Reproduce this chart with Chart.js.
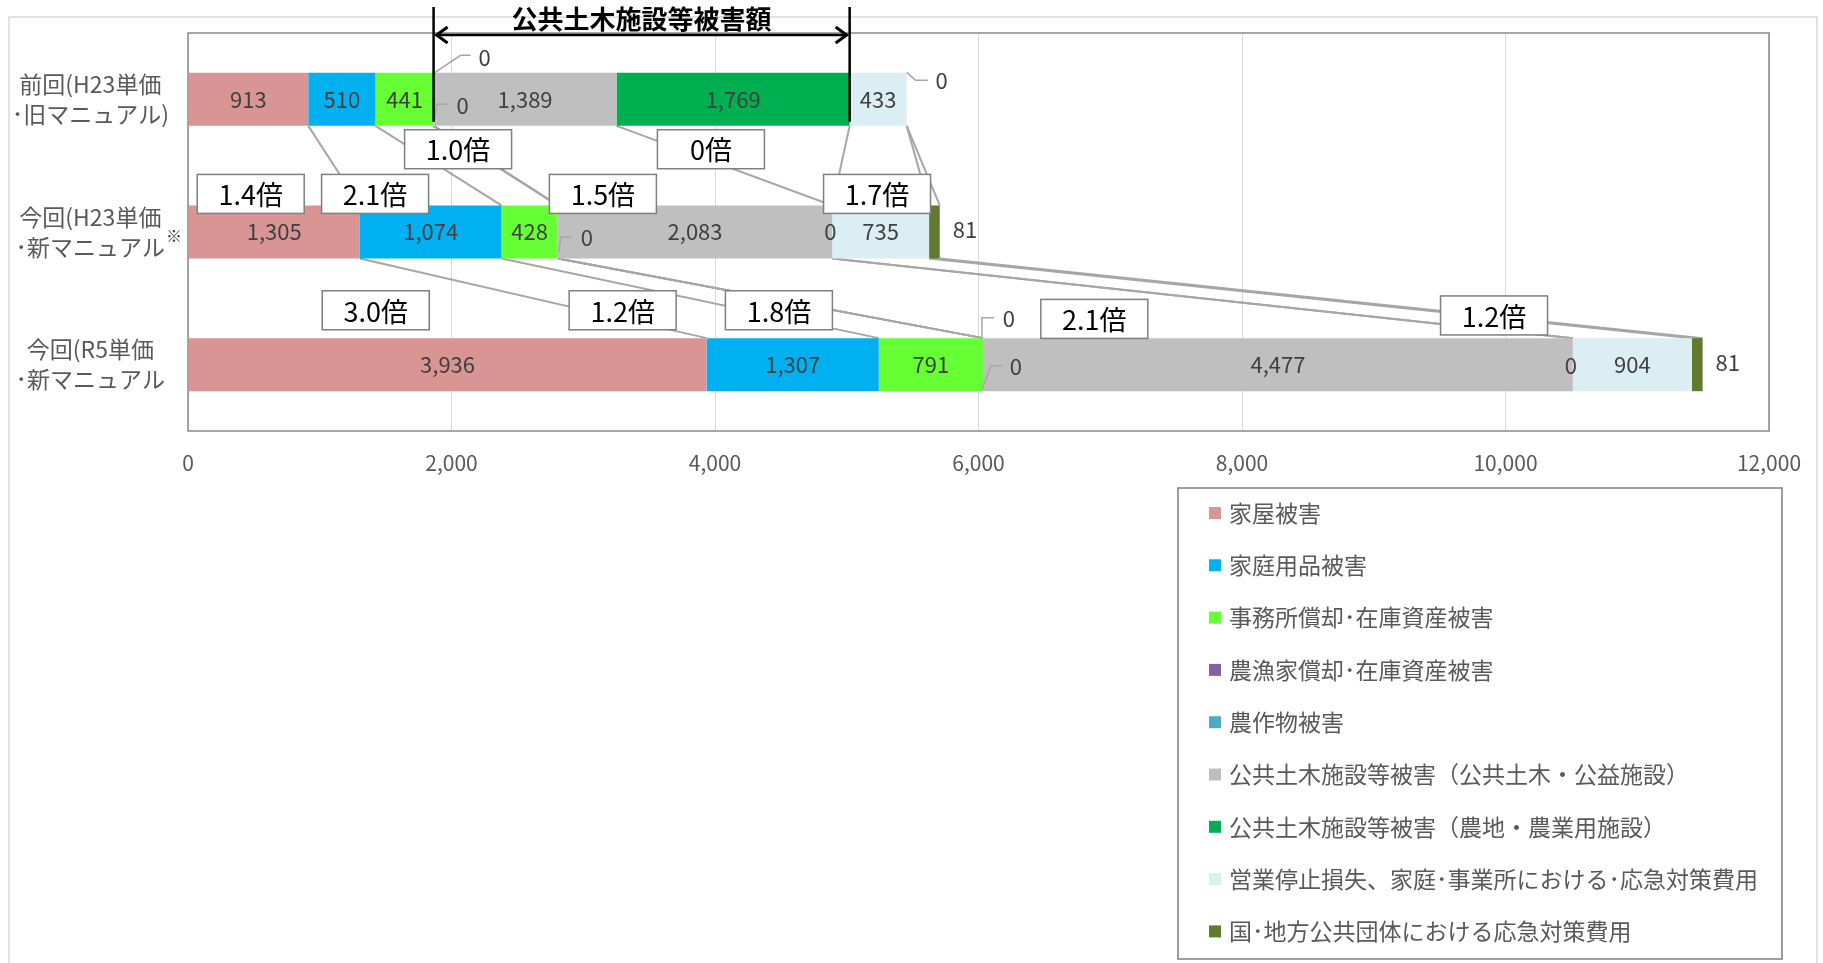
<!DOCTYPE html>
<html lang="ja">
<head>
<meta charset="utf-8">
<title>被害額の比較</title>
<script src="https://cdn.jsdelivr.net/npm/chart.js@4.4.0/dist/chart.umd.min.js"></script>
<style>
    html, body { margin: 0; padding: 0; background: #fff; }
    #wrap { position: relative; width: 1823px; height: 963px; }
</style>
</head>
<body>
<div id="wrap"><canvas id="damageChart" width="1823" height="963"></canvas></div>
<script>
const categories = [
    ['前回(H23単価', '･旧マニュアル)'],
    ['今回(H23単価', '･新マニュアル'],
    ['今回(R5単価', '･新マニュアル']
];
const seriesNames = [
    '家屋被害',
    '家庭用品被害',
    '事務所償却･在庫資産被害',
    '農漁家償却･在庫資産被害',
    '農作物被害',
    '公共土木施設等被害（公共土木・公益施設）',
    '公共土木施設等被害（農地・農業用施設）',
    '営業停止損失、家庭･事業所における･応急対策費用',
    '国･地方公共団体における応急対策費用'
];
const houseDamage = [913, 1305, 3936];
const householdGoods = [510, 1074, 1307];
const officeAssets = [441, 428, 791];
const farmFisheryAssets = [0, null, 0];
const cropDamage = [0, 0, 0];
const publicFacilities = [1389, 2083, 4477];
const farmlandFacilities = [1769, 0, 0];
const businessLoss = [433, 735, 904];
const emergencyCost = [0, 81, 81];
const xTicks = [0, 2000, 4000, 6000, 8000, 10000, 12000];

// 倍率の吹き出し（x: 値, y: カテゴリ位置）
const ratioTexts = ['1.0倍', '0倍', '1.4倍', '2.1倍', '1.5倍', '1.7倍', '3.0倍', '1.2倍', '1.8倍', '2.1倍', '1.2倍'];
const ratioX = [2050, 3969, 476, 1420, 3149, 5230, 1425, 3299, 4485, 6879, 9913];
const ratioY = [0.376, 0.376, 0.713, 0.713, 0.713, 0.713, 1.59, 1.59, 1.59, 1.655, 1.629];

const bracketTitle = '公共土木施設等被害額';

const seriesColors = ['#d99594', '#00b0f0', '#66ff33', '#8064a2', '#4bacc6', '#bfbfbf', '#00b050', '#dbeef4', '#617a30'];
const seriesValues = [houseDamage, householdGoods, officeAssets, farmFisheryAssets, cropDamage,
    publicFacilities, farmlandFacilities, businessLoss, emergencyCost];

// 0 のラベル位置（区切り位置・棒中心からのずれ）と引出線
const zeroSpots = [
    { series: 3, row: 0, dx: 51, dy: -42, leader: [[0, -26], [27, -44], [37, -44]] },
    { series: 4, row: 0, dx: 29, dy: 6, leader: [[1, 20], [3, 5], [14, 5]] },
    { series: 8, row: 0, dx: 35, dy: -19, leader: [[0, -27], [9, -19], [21, -19]] },
    { series: 4, row: 1, dx: 29, dy: 6, leader: [[1, 20], [3, 5], [14, 5]] },
    { series: 6, row: 1, dx: -2, dy: 0, leader: null },
    { series: 3, row: 2, dx: 26, dy: -46, leader: [[-1, -26], [-1, -47], [11, -47]] },
    { series: 4, row: 2, dx: 33, dy: 2, leader: [[-1, 25], [8, 1], [19, 1]] },
    { series: 6, row: 2, dx: -2, dy: 1, leader: null }
];

const FONT = "'Noto Sans CJK JP', 'Noto Sans', sans-serif";

function cumulative(upTo, row) {
    let s = 0;
    for (let i = 0; i <= upTo; i++) s += seriesValues[i][row] || 0;
    return s;
}

const overlayPlugin = {
    id: 'overlay',
    beforeDatasetsDraw(chart) {
        const { ctx, chartArea: a, scales } = chart;
        ctx.save();
        // 外枠
        ctx.strokeStyle = '#d9d9d9';
        ctx.lineWidth = 1.5;
        ctx.strokeRect(9, 17, 1808, 980);
        // プロットエリア枠
        ctx.strokeStyle = '#898989';
        ctx.lineWidth = 1.5;
        ctx.strokeRect(a.left, a.top, a.right - a.left, a.bottom - a.top);

        // 区分線
        const half = chart.getDatasetMeta(0).data[0].height / 2;
        ctx.strokeStyle = '#a6a6a6';
        ctx.lineWidth = 2;
        for (let i = 0; i < seriesValues.length; i++) {
            for (let r = 0; r < categories.length - 1; r++) {
                const x1 = scales.x.getPixelForValue(cumulative(i, r));
                const x2 = scales.x.getPixelForValue(cumulative(i, r + 1));
                const y1 = scales.y.getPixelForValue(r) + half;
                const y2 = scales.y.getPixelForValue(r + 1) - half;
                ctx.beginPath();
                ctx.moveTo(x1, y1);
                ctx.lineTo(x2, y2);
                ctx.stroke();
            }
        }
        ctx.restore();
    },
    afterDatasetsDraw(chart) {
        const { ctx, scales } = chart;
        ctx.save();

        // データラベル
        ctx.font = '22px ' + FONT;
        ctx.fillStyle = '#404040';
        ctx.textBaseline = 'middle';
        const last = chart.data.datasets.length - 1;
        chart.data.datasets.forEach((ds, i) => {
            const meta = chart.getDatasetMeta(i);
            meta.data.forEach((el, r) => {
                const v = ds.data[r];
                if (v === null || v === undefined) return;
                const txt = v.toLocaleString('en-US');
                if (v === 0) {
                    const spot = zeroSpots.find(s => s.series === i && s.row === r);
                    if (!spot) return;
                    if (spot.leader) {
                        ctx.strokeStyle = '#a6a6a6';
                        ctx.lineWidth = 1.5;
                        ctx.beginPath();
                        spot.leader.forEach((p, k) => {
                            if (k === 0) ctx.moveTo(el.x + p[0], el.y + p[1]);
                            else ctx.lineTo(el.x + p[0], el.y + p[1]);
                        });
                        ctx.stroke();
                    }
                    ctx.textAlign = 'center';
                    ctx.fillText(txt, el.x + spot.dx, el.y + spot.dy);
                } else if (i === last) {
                    ctx.textAlign = 'left';
                    ctx.fillText(txt, el.x + 13, el.y - 2);
                } else {
                    ctx.textAlign = 'center';
                    ctx.fillText(txt, (el.x + el.base) / 2, el.y);
                }
            });
        });

        // 倍率ボックス
        ctx.font = '27px ' + FONT;
        ctx.textAlign = 'center';
        ratioTexts.forEach((t, k) => {
            const cx = scales.x.getPixelForValue(ratioX[k]);
            const cy = scales.y.getPixelForValue(ratioY[k]);
            const w = 107, h = 39;
            ctx.fillStyle = '#ffffff';
            ctx.fillRect(cx - w / 2, cy - h / 2, w, h);
            ctx.strokeStyle = '#7f7f7f';
            ctx.lineWidth = 1.5;
            ctx.strokeRect(cx - w / 2, cy - h / 2, w, h);
            ctx.fillStyle = '#000000';
            ctx.fillText(t, cx, cy + 1);
        });

        // 公共土木施設等被害額の範囲
        const xa = scales.x.getPixelForValue(cumulative(4, 0));
        const xb = scales.x.getPixelForValue(cumulative(6, 0));
        const barBottom = scales.y.getPixelForValue(0) + chart.getDatasetMeta(0).data[0].height / 2;
        const ay = 35;
        ctx.strokeStyle = '#000000';
        ctx.lineWidth = 2.5;
        ctx.beginPath();
        ctx.moveTo(xa, 7); ctx.lineTo(xa, barBottom - 4);
        ctx.moveTo(xb, 7); ctx.lineTo(xb, barBottom - 4);
        ctx.moveTo(xa + 2, ay); ctx.lineTo(xb - 2, ay);
        ctx.stroke();
        ctx.lineWidth = 3;
        ctx.beginPath();
        ctx.moveTo(xa + 14, ay - 8); ctx.lineTo(xa + 3, ay); ctx.lineTo(xa + 14, ay + 8);
        ctx.moveTo(xb - 14, ay - 8); ctx.lineTo(xb - 3, ay); ctx.lineTo(xb - 14, ay + 8);
        ctx.stroke();
        ctx.font = 'bold 26px ' + FONT;
        ctx.fillStyle = '#000000';
        ctx.fillText(bracketTitle, (xa + xb) / 2, 19);

        // ※印
        ctx.font = '16px ' + FONT;
        ctx.fillStyle = '#404040';
        ctx.fillText('※', scales.y.right - 14, scales.y.getPixelForValue(1) + 4);

        ctx.restore();
    },
    afterDraw(chart) {
        const { ctx } = chart;
        ctx.save();
        ctx.strokeStyle = '#7f7f7f';
        ctx.lineWidth = 1.5;
        ctx.strokeRect(1178, 488, 604, 471);
        ctx.font = '23px ' + FONT;
        ctx.textBaseline = 'middle';
        ctx.textAlign = 'left';
        chart.data.datasets.forEach((ds, i) => {
            const y = 513 + i * 52.3;
            ctx.fillStyle = ds.backgroundColor;
            ctx.fillRect(1209, y - 6, 12, 12);
            ctx.fillStyle = '#595959';
            ctx.fillText(ds.label, 1229, y);
        });
        ctx.restore();
    }
};

Chart.defaults.font.family = FONT;

const ctx = document.getElementById('damageChart').getContext('2d');
const damageChart = new Chart(ctx, {
    type: 'bar',
    data: {
        labels: categories,
        datasets: seriesNames.map((name, i) => ({
            label: name,
            data: seriesValues[i],
            backgroundColor: seriesColors[i],
            borderWidth: 0,
            barPercentage: 0.4,
            categoryPercentage: 1
        }))
    },
    options: {
        indexAxis: 'y',
        responsive: false,
        animation: false,
        layout: { padding: { top: 33, right: 54, left: 0, bottom: 0 } },
        plugins: {
            legend: { display: false },
            tooltip: { enabled: false }
        },
        scales: {
            x: {
                stacked: true,
                min: 0,
                max: 12000,
                afterBuildTicks: (scale) => { scale.ticks = xTicks.map(v => ({ value: v })); },
                afterFit: (scale) => { scale.height = 532; },
                grid: { color: '#d9d9d9', lineWidth: 1, drawTicks: false },
                border: { display: false },
                ticks: {
                    padding: 19,
                    color: '#595959',
                    font: { size: 21 },
                    maxRotation: 0,
                    callback: (v) => Number(v).toLocaleString('en-US')
                }
            },
            y: {
                stacked: true,
                afterFit: (scale) => {
                    scale.width = 188;
                    scale.paddingTop = 0;
                    scale.paddingBottom = 0;
                },
                grid: { display: false, drawTicks: false },
                border: { display: false },
                ticks: {
                    crossAlign: 'center',
                    padding: 19,
                    color: '#595959',
                    font: { size: 23, lineHeight: 1.3 }
                }
            }
        }
    },
    plugins: [overlayPlugin]
});
</script>
</body>
</html>
